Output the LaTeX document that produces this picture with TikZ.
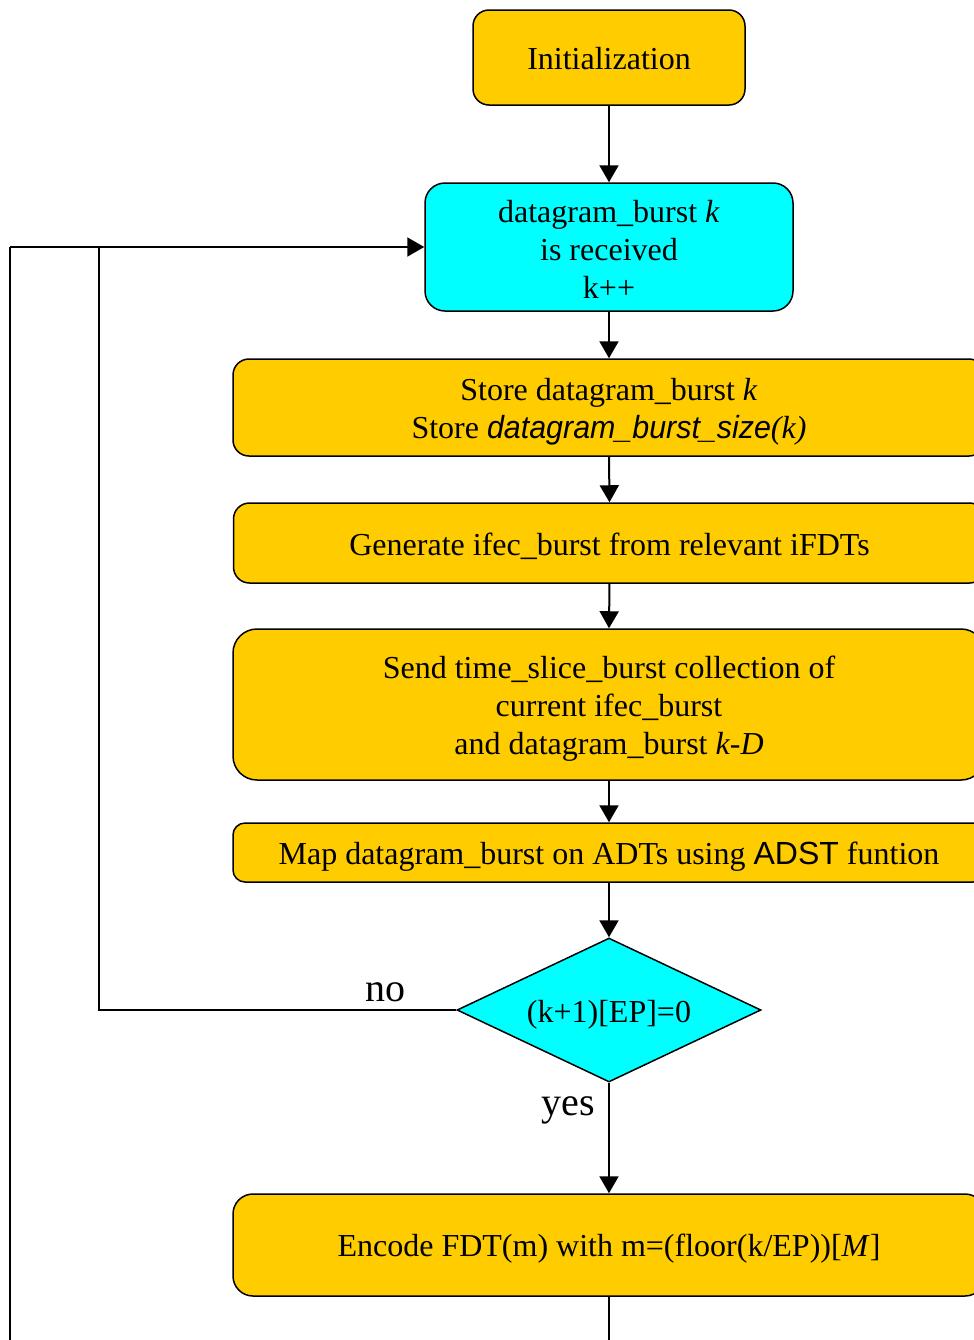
\documentclass[tikz,border=0pt]{standalone}
\usepackage{fontspec}
\setmainfont{Liberation Serif}
\setsansfont{Liberation Sans}
\usetikzlibrary{shapes.geometric,arrows.meta}
\definecolor{boxgold}{HTML}{FFCC00}
\definecolor{boxcyan}{HTML}{00FFFF}
% extra room above the first line, which sets the text a little low in its box
\newcommand\toproom[1]{\rule{0pt}{#1}}
\begin{document}
\begin{tikzpicture}[x=0.5pt,y=-0.5pt,
  every node/.style={font=\fontsize{16}{19}\selectfont},
  procbox/.style={draw=black,line width=0.75pt,fill=boxgold,rounded corners=8pt,
    align=center,inner sep=0pt,minimum width=376pt},
  flow/.style={line width=1pt,-{Triangle[length=8.5pt,width=9.5pt]}},
  plain/.style={line width=1pt},
  lbl/.style={font=\fontsize{20}{24}\selectfont,inner sep=0pt}]
\path[use as bounding box,clip] (0,0) rectangle (974,1340);

% process steps
\node[procbox,minimum width=136pt,minimum height=47.5pt] (init) at (609,57.5)
  {\toproom{12pt}Initialization};
\node[procbox,fill=boxcyan,minimum width=184pt,minimum height=64pt,rounded corners=10pt] (recv) at (609,247)
  {\toproom{13pt}datagram\_burst \textit{k}\\is received\\k++};
\node[procbox,minimum height=48.5pt] (store) at (609,407.5)
  {\toproom{15pt}Store datagram\_burst \textit{k}\\Store {\sffamily\itshape\addfontfeatures{FakeStretch=0.95}datagram\_burst\_size}\textit{(k)}};
\node[procbox,minimum height=40pt] (gen) at (609.5,543)
  {\toproom{15pt}Generate ifec\_burst from relevant iFDTs};
\node[procbox,minimum height=75.5pt,rounded corners=12pt] (send) at (609,704.5)
  {\toproom{15pt}Send time\_slice\_burst collection of\\current ifec\_burst\\and datagram\_burst \textit{k-D}};
\node[procbox,minimum height=29.5pt,rounded corners=6pt] (map) at (609,852.5)
  {\toproom{15.5pt}Map datagram\_burst on ADTs using {\sffamily ADST} funtion};
\node[draw=black,line width=0.75pt,fill=boxcyan,diamond,shape aspect=2.1,inner sep=0pt,
  minimum width=152pt,minimum height=72pt] (dec) at (609,1010)
  {\toproom{15.5pt}(k+1)[EP]=0};
\node[procbox,minimum height=51pt,rounded corners=10pt] (enc) at (609,1245)
  {\toproom{15pt}Encode FDT(m) with m=(floor(k/EP))[\textit{M}]};

% branch labels
\node[lbl] (no) at (385,992) {no};
\node[lbl] (yes) at (568,1110) {yes};

% loop-back points
\coordinate (inner) at (99,1010);
\coordinate (join) at (99,247);
\coordinate (outer) at (10,247);
\coordinate (below) at (609,1400);
\coordinate (corner) at (10,1400);

% connectors
\draw[flow] (init) -- (recv);
\draw[flow] (recv) -- (store);
\draw[flow] (store.south) -- (gen.north);
\draw[flow] (gen.south) -- (send.north);
\draw[flow] (send) -- (map);
\draw[flow] (map.south) -- (dec.north);
\draw[flow] (dec.south) -- (enc.north);
\draw[plain] (dec.west) -- (inner) -- (join);
\draw[flow] (outer) -- (recv.west);
\draw[plain] (enc.south) -- (below) -- (corner) -- (outer);
\end{tikzpicture}
\end{document}
